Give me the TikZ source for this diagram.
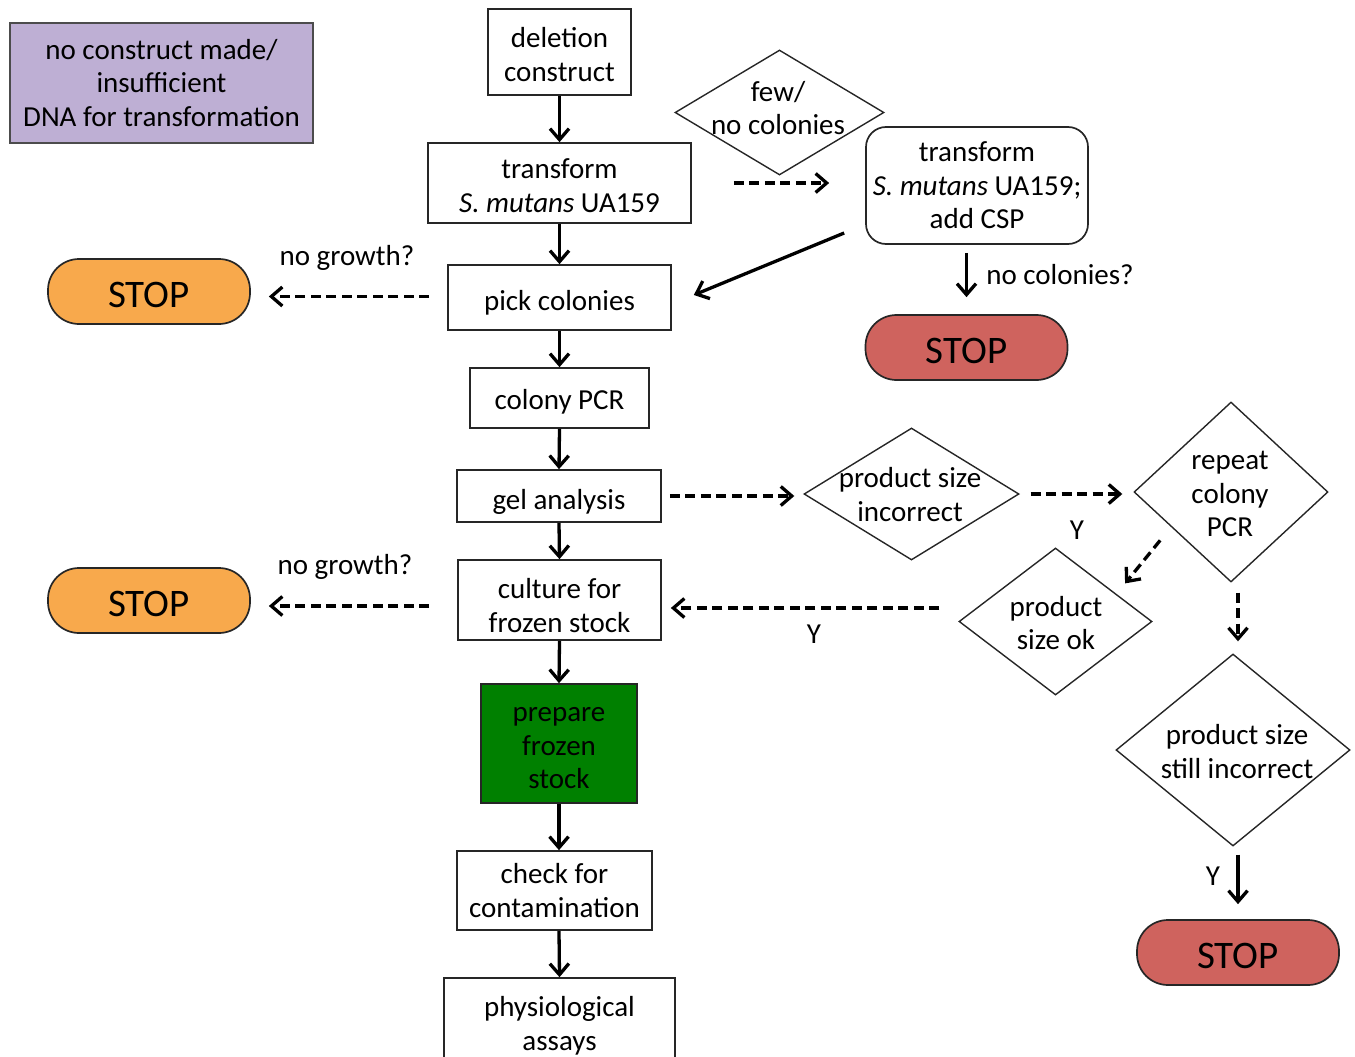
\documentclass[tikz,border=0pt]{standalone}
\usepackage{fontspec}
\setmainfont{Carlito}
\usetikzlibrary{shapes.geometric,arrows.meta,calc}
\definecolor{lav}{RGB}{190,175,212}
\definecolor{orng}{RGB}{248,169,76}
\definecolor{stopred}{RGB}{207,99,94}
\definecolor{grn}{RGB}{0,128,0}
\newcommand\dnone[2]{\raisebox{-#1}[\height][\depth]{#2}}
\newcommand\dnmany[2]{\raisebox{-#1}[\height][\depth]{\begin{tabular}{@{}c@{}}#2\end{tabular}}}
\begin{document}
\begin{tikzpicture}[x=1pt,y=-1pt,
  every node/.style={font=\fontsize{29}{33.5}\selectfont, inner sep=0pt, align=center},
  box/.style={draw=black!85, line width=1.7pt, rectangle},
  stopbox/.style={draw=black!85, line width=1.7pt, rectangle, rounded corners=31pt,
     minimum width=202pt, minimum height=65pt, font=\fontsize{39}{44}\selectfont},
  dia/.style={draw=black!85, line width=1.4pt, diamond, aspect=1},
  arr/.style={line width=3.3pt, -{Straight Barb[length=11pt,width=19pt]}},
  darr/.style={arr, dash pattern=on 10pt off 5.5pt},
  lbl/.style={font=\fontsize{29}{33.5}\selectfont}
]
\useasboundingbox (0,0) rectangle (1355,1057);

% main column
\node[box, fill=lav, draw=black!70, minimum width=303pt, minimum height=120pt] (purple) at (161.5,83)
  {no construct made/\\insufficient\\DNA for transformation};
\node[box, minimum width=143pt, minimum height=86pt] (del) at (559.5,52) {\dnmany{6pt}{deletion\\construct}};
\node[box, minimum width=263pt, minimum height=80pt] (tr) at (559.5,183) {\dnmany{6pt}{transform\\\textit{S. mutans} UA159}};
\node[box, minimum width=223pt, minimum height=65pt] (pick) at (559.5,297.5) {\dnone{5pt}{pick colonies}};
\node[box, minimum width=179pt, minimum height=60pt] (pcr) at (559.5,398) {\dnone{4pt}{colony PCR}};
\node[box, minimum width=204pt, minimum height=52pt] (gel) at (559,496) {\dnone{6pt}{gel analysis}};
\node[box, minimum width=203pt, minimum height=80pt] (cult) at (559.5,600) {\dnmany{9pt}{culture for\\frozen stock}};
\node[box, fill=grn, minimum width=156pt, minimum height=119pt] (prep) at (559,743.5) {\dnmany{5pt}{prepare\\frozen\\stock}};
\node[box, minimum width=195pt, minimum height=79pt] (chk) at (554.5,890.5) {check for\\contamination};
\node[box, minimum width=231pt, minimum height=90pt] (phys) at (559.5,1023) {\dnmany{4pt}{physiological\\assays}};

% stops
\node[stopbox, fill=orng] (stop1) at (149,291.5) {\dnone{3pt}{STOP}};
\node[stopbox, fill=orng] (stop2) at (149,600.5) {\dnone{3pt}{STOP}};
\node[stopbox, fill=stopred] (stop3) at (966.5,347.5) {\dnone{3pt}{STOP}};
\node[stopbox, fill=stopred] (stop4) at (1238,952.5) {\dnone{3pt}{STOP}};

% right side
\node[dia, minimum width=209pt, minimum height=125pt] (few) at (779.5,112.5) {};
\node (fewt) at (778,108) {few/\\no colonies};
\node[box, rounded corners=20pt, minimum width=222pt, minimum height=117pt] (csp) at (977,185.5)
  {transform\\\textit{S. mutans} UA159;\\add CSP};
\node[dia, minimum width=215pt, minimum height=132pt] (psi) at (911.5,494) {};
\node (psit) at (910,494.5) {product size\\incorrect};
\node[dia, minimum width=194pt, minimum height=180pt] (rep) at (1231,492) {};
\node (rept) at (1230,494) {repeat\\colony\\PCR};
\node[dia, minimum width=193pt, minimum height=147pt] (ok) at (1055.5,621.5) {};
\node (okt) at (1056,623) {product\\size ok};
\node[dia, minimum width=234pt, minimum height=192pt] (still) at (1233,750) {};
\node (stillt) at (1237,751.5) {product size\\still incorrect};

% labels
\node[lbl] (ng1) at (347,258) {no growth?};
\node[lbl] (ng2) at (345,567) {no growth?};
\node[lbl] (nc) at (1060,275) {no colonies?};
\node[lbl] (y1) at (1077,530) {Y};
\node[lbl] (y2) at (814,634) {Y};
\node[lbl] (y3) at (1213,876) {Y};

% main arrows
\draw[arr] (del.south) -- (tr.north);
\draw[arr] (tr.south) -- (pick.north);
\draw[arr] (pick.south) -- (pcr.north);
\draw[arr] (pcr.south) -- (gel.north);
\draw[arr] (gel.south) -- (cult.north);
\draw[arr] (cult.south) -- (prep.north);
\draw[arr] (prep.south) -- (chk.north -| prep.south);
\draw[arr] (chk.south -| prep.south) -- (phys.north);

% dashed side arrows
\coordinate (a1s) at ($(pick.west)+(0,-1)$);
\draw[darr, shorten <=18pt, shorten >=18pt] (a1s) -- (a1s -| stop1.east);
\coordinate (a2s) at ($(cult.west)+(0,6)$);
\draw[darr, shorten <=28pt, shorten >=18pt] (a2s) -- (a2s -| stop2.east);
\draw[darr, shorten <=42pt, shorten >=36pt] (tr.east) -- (tr.east -| csp.west);
\coordinate (dgs) at ($(csp.west)+(-21,47.5)$);
\draw[arr] (dgs) -- ($(pick.east)+(22,-2.5)$);
\coordinate (c3s) at (csp.south -| stop3.north);
\draw[arr, shorten <=8pt, shorten >=17pt] (c3s) -- (stop3.north);
\coordinate (g1) at ($(gel.east)+(0,0)$);
\draw[darr, shorten <=8pt, shorten >=9pt] (g1) -- (g1 -| psi.west);
\draw[darr, shorten <=11pt, shorten >=11pt] (psi.east) -- (psi.east -| rep.west);
\draw[darr] ($(rep.south west)+(-22,3)$) -- ($(ok.north east)+(21,-1)$);
\coordinate (oks) at ($(ok.west)+(0,-13.5)$);
\draw[darr, shorten <=19pt, shorten >=9pt] (oks) -- (oks -| cult.east);
\coordinate (r4) at ($(rep.south)+(7,0)$);
\draw[darr, shorten <=10pt, shorten >=12pt] (r4) -- (r4 |- still.north);
\coordinate (s4) at (still.south -| stop4.north);
\draw[arr, shorten <=8pt, shorten >=15pt] (s4) -- (stop4.north);
\end{tikzpicture}
\end{document}
